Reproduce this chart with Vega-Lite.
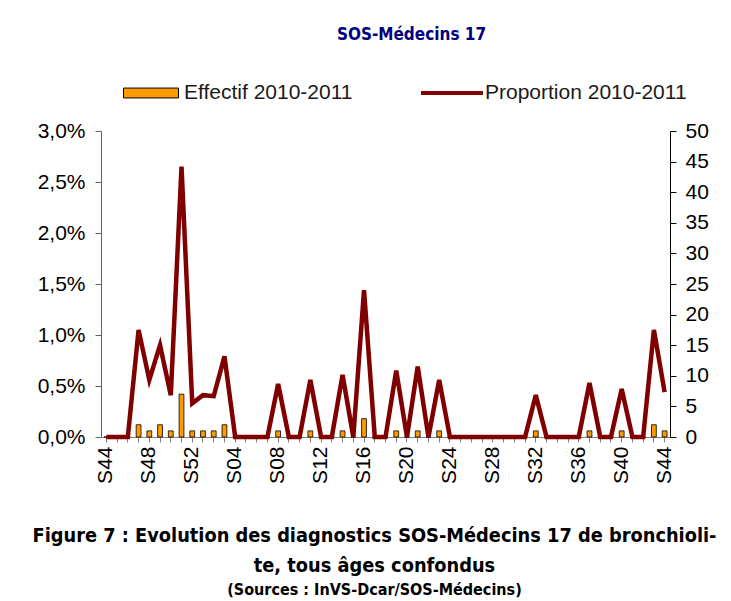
{
  "$schema": "https://vega.github.io/schema/vega-lite/v6.json",
  "width": 569,
  "height": 306,
  "autosize": {"type": "none"},
  "padding": {"left": 101, "top": 131, "right": 61, "bottom": 164},
  "config": {"font": "Liberation Sans", "view": {"stroke": null}},
  "title": {
    "text": ["Figure 7 : Evolution des diagnostics SOS-Médecins 17 de bronchioli-", "te, tous âges confondus"],
    "subtitle": "(Sources : InVS-Dcar/SOS-Médecins)",
    "orient": "bottom",
    "anchor": "middle",
    "dx": -11,
    "offset": 43,
    "font": "DejaVu Sans Condensed, DejaVu Sans, sans-serif",
    "fontSize": 19.8,
    "fontWeight": "bold",
    "color": "black",
    "lineHeight": 30,
    "subtitleFont": "DejaVu Sans Condensed, DejaVu Sans, sans-serif",
    "subtitleFontSize": 16,
    "subtitleFontWeight": "bold",
    "subtitleColor": "black",
    "subtitlePadding": 6
  },
  "data": {"values": [
    {"semaine": "2010-S44", "effectif": 0, "proportion": 0},
    {"semaine": "2010-S45", "effectif": 0, "proportion": 0},
    {"semaine": "2010-S46", "effectif": 0, "proportion": 0},
    {"semaine": "2010-S47", "effectif": 2, "proportion": 1.05},
    {"semaine": "2010-S48", "effectif": 1, "proportion": 0.56},
    {"semaine": "2010-S49", "effectif": 2, "proportion": 0.9},
    {"semaine": "2010-S50", "effectif": 1, "proportion": 0.41},
    {"semaine": "2010-S51", "effectif": 7, "proportion": 2.65},
    {"semaine": "2010-S52", "effectif": 1, "proportion": 0.33},
    {"semaine": "2011-S01", "effectif": 1, "proportion": 0.41},
    {"semaine": "2011-S02", "effectif": 1, "proportion": 0.4},
    {"semaine": "2011-S03", "effectif": 2, "proportion": 0.79},
    {"semaine": "2011-S04", "effectif": 0, "proportion": 0},
    {"semaine": "2011-S05", "effectif": 0, "proportion": 0},
    {"semaine": "2011-S06", "effectif": 0, "proportion": 0},
    {"semaine": "2011-S07", "effectif": 0, "proportion": 0},
    {"semaine": "2011-S08", "effectif": 1, "proportion": 0.52},
    {"semaine": "2011-S09", "effectif": 0, "proportion": 0},
    {"semaine": "2011-S10", "effectif": 0, "proportion": 0},
    {"semaine": "2011-S11", "effectif": 1, "proportion": 0.56},
    {"semaine": "2011-S12", "effectif": 0, "proportion": 0},
    {"semaine": "2011-S13", "effectif": 0, "proportion": 0},
    {"semaine": "2011-S14", "effectif": 1, "proportion": 0.61},
    {"semaine": "2011-S15", "effectif": 0, "proportion": 0},
    {"semaine": "2011-S16", "effectif": 3, "proportion": 1.44},
    {"semaine": "2011-S17", "effectif": 0, "proportion": 0},
    {"semaine": "2011-S18", "effectif": 0, "proportion": 0},
    {"semaine": "2011-S19", "effectif": 1, "proportion": 0.65},
    {"semaine": "2011-S20", "effectif": 0, "proportion": 0},
    {"semaine": "2011-S21", "effectif": 1, "proportion": 0.69},
    {"semaine": "2011-S22", "effectif": 0, "proportion": 0},
    {"semaine": "2011-S23", "effectif": 1, "proportion": 0.56},
    {"semaine": "2011-S24", "effectif": 0, "proportion": 0},
    {"semaine": "2011-S25", "effectif": 0, "proportion": 0},
    {"semaine": "2011-S26", "effectif": 0, "proportion": 0},
    {"semaine": "2011-S27", "effectif": 0, "proportion": 0},
    {"semaine": "2011-S28", "effectif": 0, "proportion": 0},
    {"semaine": "2011-S29", "effectif": 0, "proportion": 0},
    {"semaine": "2011-S30", "effectif": 0, "proportion": 0},
    {"semaine": "2011-S31", "effectif": 0, "proportion": 0},
    {"semaine": "2011-S32", "effectif": 1, "proportion": 0.41},
    {"semaine": "2011-S33", "effectif": 0, "proportion": 0},
    {"semaine": "2011-S34", "effectif": 0, "proportion": 0},
    {"semaine": "2011-S35", "effectif": 0, "proportion": 0},
    {"semaine": "2011-S36", "effectif": 0, "proportion": 0},
    {"semaine": "2011-S37", "effectif": 1, "proportion": 0.53},
    {"semaine": "2011-S38", "effectif": 0, "proportion": 0},
    {"semaine": "2011-S39", "effectif": 0, "proportion": 0},
    {"semaine": "2011-S40", "effectif": 1, "proportion": 0.47},
    {"semaine": "2011-S41", "effectif": 0, "proportion": 0},
    {"semaine": "2011-S42", "effectif": 0, "proportion": 0},
    {"semaine": "2011-S43", "effectif": 2, "proportion": 1.05},
    {"semaine": "2011-S44", "effectif": 1, "proportion": 0.44}
  ]},
  "encoding": {
    "x": {
      "field": "semaine",
      "type": "ordinal",
      "sort": null,
      "scale": {"paddingInner": 0, "paddingOuter": 0},
      "axis": {
        "title": null,
        "labelAngle": -90,
        "labelFontSize": 21,
        "labelColor": "black",
        "labelOverlap": false,
        "labelPadding": 4,
        "labelExpr": "isString(datum.value) && (toNumber(substring(datum.value, 6, 8)) % 4 === 0) ? substring(datum.value, 5, 8) : ' '",
        "tickSize": 5,
        "tickColor": "#808080",
        "domainColor": "#808080"
      }
    }
  },
  "layer": [
    {
      "mark": {"type": "bar", "width": {"band": 0.45}, "stroke": "black", "strokeWidth": 0.8},
      "encoding": {
        "y": {
          "field": "effectif",
          "type": "quantitative",
          "scale": {"domain": [0, 50]},
          "axis": {
            "orient": "right",
            "title": null,
            "values": [0, 5, 10, 15, 20, 25, 30, 35, 40, 45, 50],
            "grid": false,
            "labelFontSize": 21,
            "labelColor": "black",
            "labelPadding": 9,
            "tickSize": 6,
            "tickColor": "black",
            "domainColor": "black"
          }
        },
        "fill": {
          "datum": "Effectif 2010-2011",
          "scale": {"range": ["#FF9900"]},
          "legend": {
            "orient": "none",
            "legendX": 22,
            "legendY": -66,
            "title": null,
            "symbolType": "M-1,-0.18H1V0.18H-1Z",
            "symbolSize": 3025,
            "symbolStrokeColor": "black",
            "symbolStrokeWidth": 1,
            "labelFontSize": 21,
            "labelColor": "#1a1a1a",
            "labelOffset": 5,
            "labelLimit": 0
          }
        }
      }
    },
    {
      "mark": {"type": "line", "strokeWidth": 4.5},
      "encoding": {
        "y": {
          "field": "proportion",
          "type": "quantitative",
          "scale": {"domain": [0, 3]},
          "axis": {
            "orient": "left",
            "title": "SOS-Médecins 17",
            "titleAngle": 0,
            "titleX": 310,
            "titleY": -92,
            "titleAlign": "center",
            "titleBaseline": "alphabetic",
            "titleFont": "DejaVu Sans Condensed, DejaVu Sans, sans-serif",
            "titleFontSize": 17,
            "titleFontWeight": "bold",
            "titleColor": "#000080",
            "values": [0, 0.5, 1, 1.5, 2, 2.5, 3],
            "labelExpr": "replace(format(datum.value, '.1f'), '.', ',') + '%'",
            "grid": false,
            "labelFontSize": 21,
            "labelColor": "black",
            "labelPadding": 10,
            "tickSize": 6,
            "tickColor": "#606060",
            "domainColor": "#606060"
          }
        },
        "stroke": {
          "datum": "Proportion 2010-2011",
          "scale": {"range": ["#800000"]},
          "legend": {
            "orient": "none",
            "legendX": 318,
            "legendY": -71,
            "title": null,
            "symbolType": "stroke",
            "symbolSize": 3844,
            "symbolStrokeWidth": 4,
            "labelFontSize": 21,
            "labelColor": "#1a1a1a",
            "labelOffset": 0,
            "labelLimit": 0
          }
        }
      }
    }
  ],
  "resolve": {"scale": {"y": "independent"}}
}
